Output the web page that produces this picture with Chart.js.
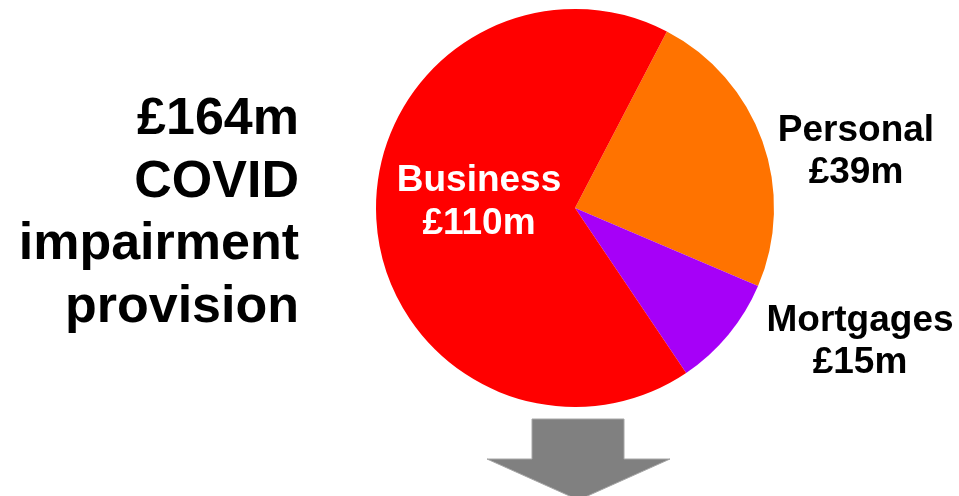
<!DOCTYPE html>
<html>
<head>
<meta charset="utf-8">
<script src="https://cdn.jsdelivr.net/npm/chart.js@4/dist/chart.umd.min.js"></script>
<style>
  html, body { margin: 0; padding: 0; background: #fff; }
  #wrap { width: 959px; height: 496px; position: relative; }
</style>
</head>
<body>
<div id="wrap"><canvas id="pie"></canvas></div>
<script>
// slice data (£m)
const labels = ["Personal", "Mortgages", "Business"];
const values = [39, 15, 110];
const colors = ["#FF7300", "#A600F8", "#FF0000"];
const labelText = ["£39m", "£15m", "£110m"];
const titleLines = ["£164m", "COVID", "impairment", "provision"];

const FONT = '"Liberation Sans", Arial, sans-serif';

// left title + slice labels + arrow
const extras = {
  id: "extras",
  afterDraw(chart) {
    const ctx = chart.ctx;
    ctx.save();

    // title on the left
    ctx.fillStyle = "#000";
    ctx.font = "bold 52px " + FONT;
    ctx.textAlign = "right";
    ctx.textBaseline = "alphabetic";
    titleLines.forEach((t, i) => ctx.fillText(t, 299, 134 + i * 62.5));

    // slice labels
    ctx.textAlign = "center";
    ctx.font = "bold 37px " + FONT;
    ctx.fillStyle = "#fff";
    ctx.fillText(labels[2], 479, 191);
    ctx.fillText(labelText[2], 479, 234);

    ctx.fillStyle = "#000";
    ctx.fillText(labels[0], 856, 141);
    ctx.fillText(labelText[0], 856, 183);
    ctx.fillText(labels[1], 860, 331);
    ctx.fillText(labelText[1], 860, 373);

    // grey arrow below the pie
    ctx.beginPath();
    ctx.moveTo(532, 419);
    ctx.lineTo(624, 419);
    ctx.lineTo(624, 459);
    ctx.lineTo(670, 459);
    ctx.lineTo(578.5, 500);
    ctx.lineTo(487, 459);
    ctx.lineTo(532, 459);
    ctx.closePath();
    ctx.fillStyle = "#808080";
    ctx.fill();
    ctx.strokeStyle = "#A6A6A6";
    ctx.lineWidth = 1;
    ctx.stroke();

    ctx.restore();
  }
};

new Chart(document.getElementById("pie"), {
  type: "pie",
  data: {
    labels,
    datasets: [{
      data: values,
      backgroundColor: colors,
      borderWidth: 0,
      hoverOffset: 0
    }]
  },
  options: {
    responsive: true,
    maintainAspectRatio: false,
    animation: false,
    rotation: 27.5,
    layout: { padding: { left: 376, right: 185, top: 9, bottom: 89 } },
    plugins: {
      legend: { display: false },
      tooltip: { enabled: false }
    }
  },
  plugins: [extras]
});
</script>
</body>
</html>
